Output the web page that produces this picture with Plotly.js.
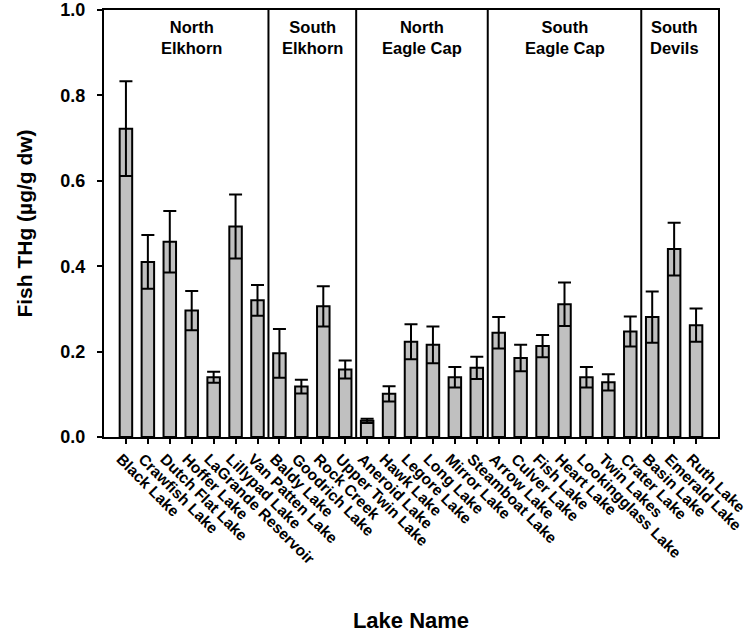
<!DOCTYPE html>
<html>
<head>
<meta charset="utf-8">
<script src="https://cdn.plot.ly/plotly-3.0.1.min.js"></script>
<style>
  html, body { margin: 0; padding: 0; background: #fff; }
  #chart { width: 748px; height: 634px; }
</style>
</head>
<body>
<div id="chart"></div>
<script>
// Lakes, in plotting order
const lakes = [
  "Black Lake", "Crawfish Lake", "Dutch Flat Lake", "Hoffer Lake", "LaGrande Reservoir",
  "Lillypad Lake", "Van Patten Lake",
  "Baldy Lake", "Goodrich Lake", "Rock Creek", "Upper Twin Lake",
  "Aneroid Lake", "Hawk Lake", "Legore Lake", "Long Lake", "Mirror Lake", "Steamboat Lake",
  "Arrow Lake", "Culver Lake", "Fish Lake", "Heart Lake", "Lookingglass Lake", "Twin Lakes", "Crater Lake",
  "Basin Lake", "Emerald Lake", "Ruth Lake"
];

// Mean fish total mercury (µg/g dry weight) per lake
const meanTHg = [
  0.722, 0.410, 0.457, 0.296, 0.140, 0.493, 0.320,
  0.196, 0.118, 0.306, 0.158,
  0.038, 0.101, 0.223, 0.216, 0.140, 0.162,
  0.244, 0.185, 0.213, 0.311, 0.140, 0.128, 0.247,
  0.281, 0.440, 0.262
];

// Standard error of the mean
const seTHg = [
  0.111, 0.063, 0.072, 0.046, 0.013, 0.075, 0.036,
  0.057, 0.016, 0.047, 0.021,
  0.005, 0.018, 0.041, 0.043, 0.024, 0.026,
  0.037, 0.031, 0.026, 0.051, 0.024, 0.019, 0.035,
  0.060, 0.062, 0.039
];

// Regional groups: label and number of lakes in each
const groupLabels = ["North<br>Elkhorn", "South<br>Elkhorn", "North<br>Eagle Cap", "South<br>Eagle Cap", "South<br>Devils"];
const groupSizes = [7, 4, 6, 7, 3];

const FONT = "Arial, 'Liberation Sans', Helvetica, sans-serif";

// Vertical dividers between regions and a centred label over each region
const shapes = [];
const annotations = [];
let start = -0.5;
groupSizes.forEach((n, i) => {
  const end = start + n;
  annotations.push({
    x: (start + end) / 2, xref: "x",
    y: 0.985, yref: "paper", yanchor: "top",
    text: "<b>" + groupLabels[i] + "</b>",
    showarrow: false,
    font: { family: FONT, size: 16.5, color: "#000", weight: "bold" }
  });
  if (i < groupSizes.length - 1) {
    shapes.push({
      type: "line", xref: "x", yref: "paper",
      x0: end, x1: end, y0: 0, y1: 1,
      line: { color: "#000", width: 2 }
    });
  }
  start = end;
});

const trace = {
  type: "bar",
  x: lakes,
  y: meanTHg,
  marker: { color: "#c0c0c0", line: { color: "#000", width: 2 } },
  error_y: { type: "data", array: seTHg, visible: true, color: "#000", thickness: 2, width: 6.5 },
  hoverinfo: "x+y"
};

const layout = {
  width: 748, height: 634,
  margin: { l: 104, r: 30, t: 10, b: 197 },
  paper_bgcolor: "#fff", plot_bgcolor: "#fff",
  bargap: 0.43,
  showlegend: false,
  font: { family: FONT, color: "#000" },
  xaxis: {
    type: "category",
    range: [-1, 27],
    showline: true, linecolor: "#000", linewidth: 2, mirror: true,
    ticks: "outside", ticklen: 5, tickwidth: 2, tickcolor: "#000",
    tickangle: 45,
    ticklabelshift: -5,
    tickfont: { family: FONT, size: 15.5, color: "#000", weight: "bold" },
    showgrid: false, zeroline: false,
    title: { text: "Lake Name", font: { family: FONT, size: 22, color: "#000", weight: "bold" }, standoff: 46 }
  },
  yaxis: {
    range: [0, 1],
    dtick: 0.2, tick0: 0, tickformat: ".1f",
    showline: true, linecolor: "#000", linewidth: 2, mirror: true,
    ticks: "outside", ticklen: 5, tickwidth: 2, tickcolor: "#000",
    ticklabelstandoff: 8,
    tickfont: { family: FONT, size: 18, color: "#000", weight: "bold" },
    showgrid: false, zeroline: false,
    title: { text: "Fish THg (µg/g dw)", font: { family: FONT, size: 21, color: "#000", weight: "bold" }, standoff: 22 }
  },
  shapes: shapes,
  annotations: annotations
};

Plotly.newPlot("chart", [trace], layout, { displayModeBar: false, staticPlot: true });
</script>
</body>
</html>
